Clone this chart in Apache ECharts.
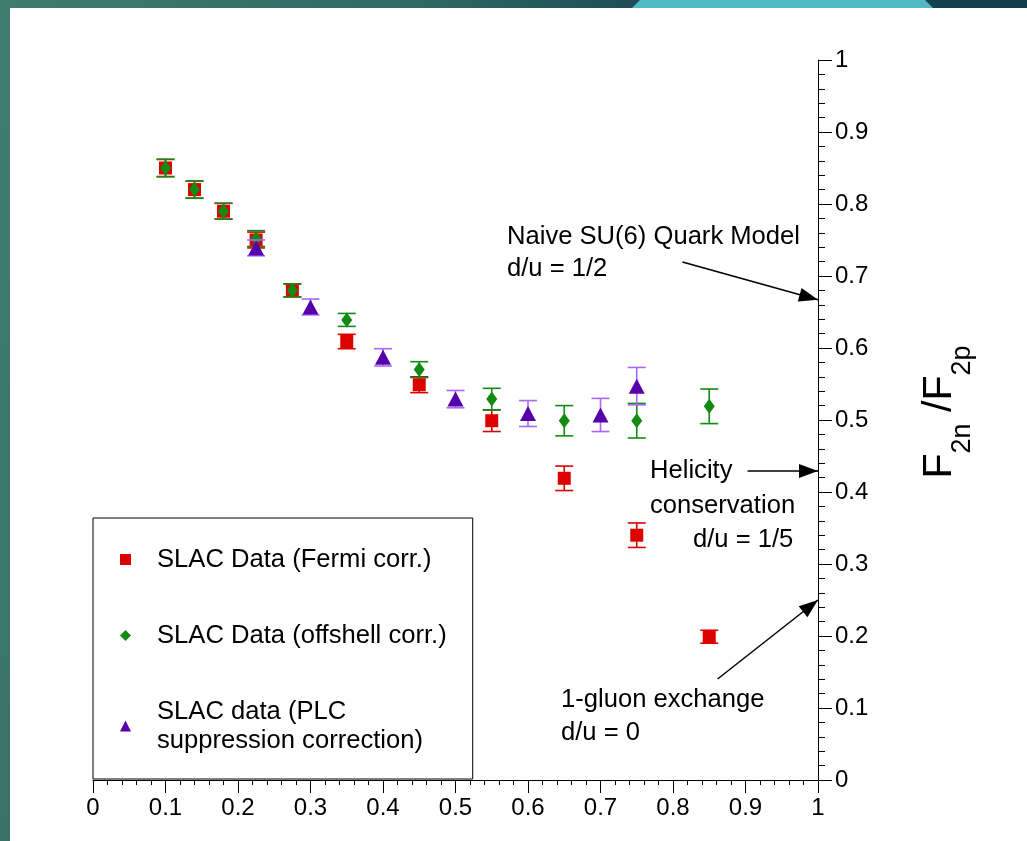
<!DOCTYPE html>
<html><head><meta charset="utf-8">
<script src="https://cdn.jsdelivr.net/npm/echarts@6/dist/echarts.min.js"></script>
<style>
html,body{margin:0;padding:0;background:#fff;}
#wrap{position:relative;width:1027px;height:841px;overflow:hidden;background:#fff;}
#topbar{position:absolute;left:0;top:0;width:1027px;height:8px;background:linear-gradient(to right,#3f7c6f 0%,#2f6a63 40%,#1d4d57 62%,#133c4c 100%);}
#trap{position:absolute;left:632px;top:0;width:301px;height:8px;background:#50b9c4;clip-path:polygon(8px 0,293px 0,301px 100%,0 100%);}
#leftbar{position:absolute;left:0;top:0;width:10px;height:841px;background:linear-gradient(to bottom,#3f7c6f,#3a7468);}
#chart{position:absolute;left:0;top:0;width:1027px;height:841px;}
</style></head>
<body><div id="wrap"><div id="topbar"></div><div id="trap"></div><div id="leftbar"></div><div id="chart"></div></div>
<script>
const FONT = '"Liberation Sans", Arial, sans-serif';

// ---- data ----
const xFermi = [0.1, 0.14, 0.18, 0.225, 0.275, 0.35, 0.45, 0.55, 0.65, 0.75, 0.85];
const yFermi = [0.85, 0.82, 0.79, 0.75, 0.68, 0.609, 0.549, 0.499, 0.419, 0.34, 0.199];
const eFermi = [0.012, 0.012, 0.011, 0.011, 0.009, 0.010, 0.011, 0.015, 0.017, 0.017, 0.009];

const xOff = [0.1, 0.14, 0.18, 0.225, 0.275, 0.35, 0.45, 0.55, 0.65, 0.75, 0.85];
const yOff = [0.85, 0.82, 0.79, 0.752, 0.68, 0.639, 0.570, 0.529, 0.499, 0.499, 0.519];
const eOff = [0.012, 0.012, 0.011, 0.011, 0.009, 0.009, 0.011, 0.015, 0.021, 0.024, 0.024];

const xPlc = [0.225, 0.3, 0.4, 0.5, 0.6, 0.7, 0.75];
const yPlc = [0.739, 0.657, 0.587, 0.529, 0.509, 0.507, 0.547];
const ePlc = [0.011, 0.011, 0.012, 0.012, 0.018, 0.023, 0.026];

const seriesNames = ['SLAC Data (Fermi corr.)', 'SLAC Data (offshell corr.)', 'SLAC data (PLC suppression correction)'];
const legendLabels = ['SLAC Data (Fermi corr.)', 'SLAC Data (offshell corr.)', 'SLAC data (PLC\nsuppression correction)'];

const refValues = { su6: 0.667, helicity: 0.429, gluon: 0.25 };
const annoTexts = {
  su6: ['Naive SU(6) Quark Model', 'd/u = 1/2'],
  helicity: ['Helicity', 'conservation', 'd/u = 1/5'],
  gluon: ['1-gluon exchange', 'd/u = 0']
};

// ---- helpers ----
function zip3(a, b, c) { return a.map((v, i) => [v, b[i], c[i]]); }
function errRender(color) {
  return function (params, api) {
    const x = api.value(0), y = api.value(1), e = api.value(2);
    const t = api.coord([x, y + e]), b = api.coord([x, y - e]);
    const hw = 9;
    const st = { stroke: color, lineWidth: 1.6 };
    return { type: 'group', children: [
      { type: 'line', shape: { x1: t[0], y1: t[1], x2: b[0], y2: b[1] }, style: st },
      { type: 'line', shape: { x1: t[0] - hw, y1: t[1], x2: t[0] + hw, y2: t[1] }, style: st },
      { type: 'line', shape: { x1: b[0] - hw, y1: b[1], x2: b[0] + hw, y2: b[1] }, style: st }
    ]};
  };
}
function txt(s, x, y) {
  return { type: 'text', x: x, y: y, silent: true,
    style: { text: s, font: '25.6px ' + FONT, fill: '#000', align: 'left', verticalAlign: 'middle' } };
}

const RED = '#dd0000', GREEN = '#138a13', PURPLE = '#5500aa', PURPLE_BAR = '#aa66ff';
const arrowStyle = { color: '#000', width: 1.5, type: 'solid' };
// arrowhead whose tip sits at the symbol centre (extra moveTo extends the box)
const ARROW = 'path://M0,0 M0,19 L7,38 L-7,38 Z';

const chart = echarts.init(document.getElementById('chart'), null, { renderer: 'canvas' });
chart.setOption({
  backgroundColor: 'transparent',
  animation: false,
  grid: { left: 93, right: 209, top: 60, bottom: 61, containLabel: false },
  xAxis: {
    type: 'value', min: 0, max: 1, interval: 0.1,
    axisLine: { onZero: false, lineStyle: { color: '#000', width: 1 } },
    axisTick: { show: true, length: 13, lineStyle: { color: '#000' } },
    minorTick: { show: true, splitNumber: 5, length: 5, lineStyle: { color: '#000' } },
    splitLine: { show: false },
    axisLabel: { color: '#000', fontSize: 24, fontFamily: FONT, margin: 16 }
  },
  yAxis: {
    type: 'value', position: 'right', min: 0, max: 1, interval: 0.1,
    axisLine: { show: true, onZero: false, lineStyle: { color: '#000', width: 1 } },
    axisTick: { show: true, length: 14, lineStyle: { color: '#000' } },
    minorTick: { show: true, splitNumber: 5, length: 7, lineStyle: { color: '#000' } },
    splitLine: { show: false },
    axisLabel: { color: '#000', fontSize: 24, fontFamily: FONT, margin: 17 },
    name: '{f0|F}{s|2n}{f| /F}{s|2p}',
    nameLocation: 'middle', nameRotate: 90, nameGap: 111,
    nameTextStyle: { color: '#000', fontFamily: FONT, fontSize: 41,
      rich: {
        f0: { fontSize: 41, lineHeight: 41, fontFamily: FONT, color: '#000', padding: [0, 0, 20, 16] },
        f: { fontSize: 41, lineHeight: 41, fontFamily: FONT, color: '#000', padding: [0, 0, 20, 0] },
        s: { fontSize: 27, lineHeight: 27, fontFamily: FONT, color: '#000', padding: [30, 0, 4, 0] }
      } }
  },
  legend: {
    orient: 'vertical', left: 93, top: 518,
    padding: [27, 26, 24, 27],
    itemGap: 47, itemWidth: 11, itemHeight: 11,
    backgroundColor: '#fff', borderColor: '#000', borderWidth: 1, borderRadius: 0,
    selectedMode: false,
    textStyle: { fontSize: 25.6, lineHeight: 29, color: '#000', fontFamily: FONT, padding: [0, 0, 0, 21] },
    data: [
      { name: seriesNames[0], icon: 'rect' },
      { name: seriesNames[1], icon: 'diamond' },
      { name: seriesNames[2], icon: 'triangle' }
    ],
    formatter: function (n) { return legendLabels[seriesNames.indexOf(n)]; }
  },
  graphic: [
    txt(annoTexts.su6[0], 507, 237), txt(annoTexts.su6[1], 507, 269),
    txt(annoTexts.helicity[0], 650, 471), txt(annoTexts.helicity[1], 650, 506), txt(annoTexts.helicity[2], 693, 540),
    txt(annoTexts.gluon[0], 561, 700), txt(annoTexts.gluon[1], 561, 733)
  ],
  series: [
    { name: 'errFermi', type: 'custom', renderItem: errRender(RED), data: zip3(xFermi, yFermi, eFermi),
      encode: { x: 0, y: 1 }, z: 2, silent: true },
    { name: seriesNames[0], type: 'scatter', symbol: 'rect', symbolSize: 13, z: 3,
      itemStyle: { color: RED, opacity: 1 }, data: xFermi.map((x, i) => [x, yFermi[i]]),
      markLine: {
        silent: true, symbol: ['none', ARROW], symbolSize: [14, 38],
        label: { show: false }, lineStyle: arrowStyle, itemStyle: { color: '#000' }, animation: false,
        data: [
          [{ coord: [0.813, 0.7194] }, { coord: [1, refValues.su6] }],
          [{ coord: [0.9028, refValues.helicity] }, { coord: [1, refValues.helicity] }],
          [{ coord: [0.8615, 0.1403] }, { coord: [1, refValues.gluon] }]
        ]
      } },
    { name: 'errOff', type: 'custom', renderItem: errRender(GREEN), data: zip3(xOff, yOff, eOff),
      encode: { x: 0, y: 1 }, z: 4, silent: true },
    { name: seriesNames[1], type: 'scatter', symbol: 'diamond', symbolSize: [11, 15], z: 5,
      itemStyle: { color: GREEN, opacity: 1 }, data: xOff.map((x, i) => [x, yOff[i]]) },
    { name: 'errPlc', type: 'custom', renderItem: errRender(PURPLE_BAR), data: zip3(xPlc, yPlc, ePlc),
      encode: { x: 0, y: 1 }, z: 6, silent: true },
    { name: seriesNames[2], type: 'scatter', symbol: 'triangle', symbolSize: [16, 15], z: 7,
      itemStyle: { color: PURPLE, opacity: 1 }, data: xPlc.map((x, i) => [x, yPlc[i]]) }
  ]
});
</script></body></html>
